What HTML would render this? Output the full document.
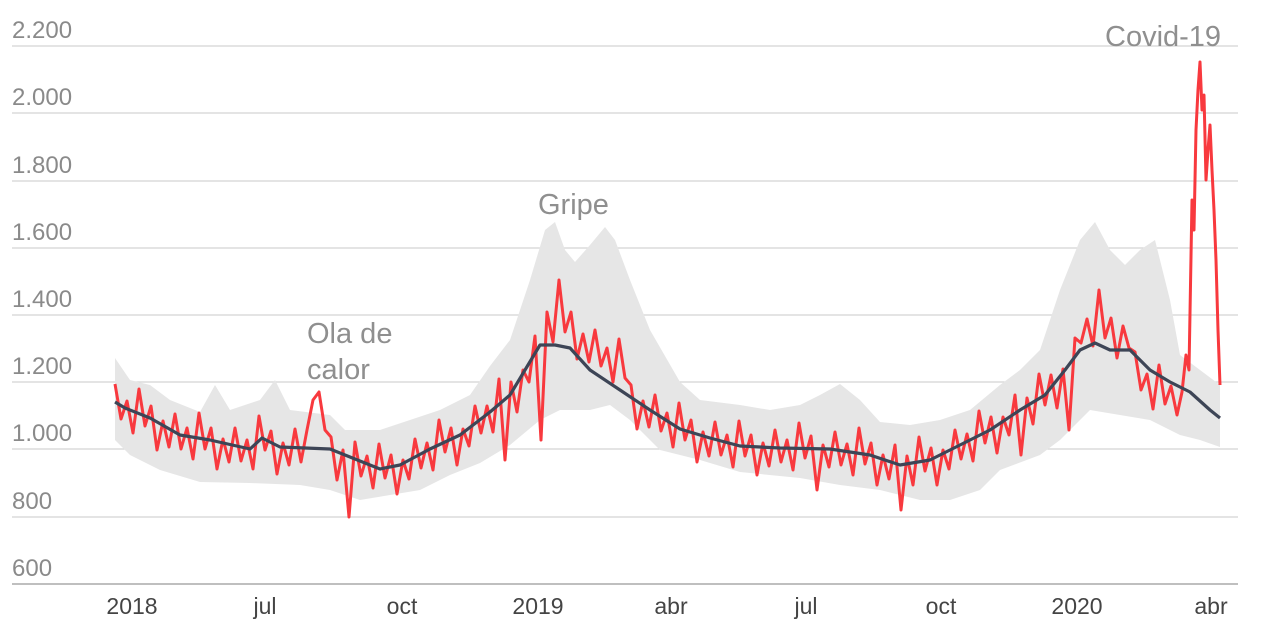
<!DOCTYPE html>
<html><head><meta charset="utf-8">
<style>
html,body{margin:0;padding:0;background:#fff;}
svg{display:block;font-family:"Liberation Sans",sans-serif;}
</style></head>
<body>
<svg width="1280" height="630" viewBox="0 0 1280 630" xmlns="http://www.w3.org/2000/svg">
<g stroke="#d4d4d4" stroke-width="1.3">
<line x1="12" x2="1238" y1="46" y2="46"/>
<line x1="12" x2="1238" y1="113" y2="113"/>
<line x1="12" x2="1238" y1="181" y2="181"/>
<line x1="12" x2="1238" y1="248" y2="248"/>
<line x1="12" x2="1238" y1="315" y2="315"/>
<line x1="12" x2="1238" y1="382" y2="382"/>
<line x1="12" x2="1238" y1="449" y2="449"/>
<line x1="12" x2="1238" y1="517" y2="517"/>
</g>
<line x1="12" x2="1238" y1="584" y2="584" stroke="#999" stroke-width="1.3"/>
<g fill="#8a8a8a" font-size="24">
<text x="12" y="38">2.200</text>
<text x="12" y="105">2.000</text>
<text x="12" y="173">1.800</text>
<text x="12" y="240">1.600</text>
<text x="12" y="307">1.400</text>
<text x="12" y="374">1.200</text>
<text x="12" y="441">1.000</text>
<text x="12" y="509">800</text>
<text x="12" y="576">600</text>
</g>
<g fill="#444" font-size="23" text-anchor="middle">
<text x="132" y="614">2018</text>
<text x="265" y="614">jul</text>
<text x="402" y="614">oct</text>
<text x="538" y="614">2019</text>
<text x="671" y="614">abr</text>
<text x="806" y="614">jul</text>
<text x="941" y="614">oct</text>
<text x="1077" y="614">2020</text>
<text x="1211" y="614">abr</text>
</g>
<path fill="#e6e6e6" d="M115 358L130 380L150 385L170 400L200 412L215 385L230 410L260 400L275 380L290 410L330 415L345 430L380 430L410 420L440 410L470 395L490 366L510 340L530 280L545 230L555 222L565 250L575 262L590 245L605 227L615 240L630 280L650 330L680 382L700 400L740 405L770 410L800 405L820 395L840 384L860 400L880 422L910 425L940 420L970 410L1000 385L1020 370L1040 350L1060 290L1080 240L1095 222L1110 250L1125 265L1140 250L1155 240L1170 300L1180 355L1200 370L1220 385L1220 447L1200 440L1180 435L1150 420L1120 415L1090 410L1060 440L1040 455L1000 470L980 490L950 500L920 500L880 490L840 485L800 478L740 472L700 460L660 450L630 420L610 405L590 410L560 410L540 420L510 445L480 463L450 475L420 490L390 495L360 500L330 490L300 485L250 483L200 482L160 470L130 455L115 440Z"/>
<path fill="none" stroke="#f8393e" stroke-width="3" stroke-linejoin="round" d="M115 384L121 419L127 401L133 433L139 389L145 426L151 406L157 450L163 421L169 447L175 414L181 449L187 428L193 459L199 413L205 449L211 428L217 469L223 439L229 462L235 428L241 461L247 440L253 469L259 416L265 450L271 431L277 474L283 443L289 465L295 429L301 462L307 430L313 400L319 392L325 430L331 437L337 480L343 450L349 517L355 442L361 476L367 456L373 488L379 444L385 478L391 455L397 494L403 460L409 479L415 439L421 468L427 443L433 470L439 420L445 452L451 428L457 465L463 429L469 446L475 406L481 433L487 406L493 432L499 379L505 460L511 382L517 412L523 370L529 382L535 336L541 440L547 312L553 342L559 280L565 332L571 312L577 359L583 334L589 362L595 330L601 366L607 348L613 382L619 339L625 378L631 385L637 429L643 401L649 427L655 395L661 431L667 413L673 447L679 403L685 440L691 420L697 462L703 432L709 456L715 422L721 455L727 435L733 467L739 421L745 456L751 435L757 475L763 443L769 466L775 430L781 462L787 440L793 470L799 423L805 458L811 436L817 490L823 445L829 467L835 432L841 465L847 444L853 475L859 428L865 464L871 443L877 485L883 455L889 479L895 445L901 510L907 456L913 485L919 437L925 471L931 448L937 485L943 450L949 469L955 430L961 459L967 434L973 461L979 411L985 443L991 417L997 453L1003 417L1009 435L1015 395L1021 455L1027 398L1033 424L1039 374L1045 405L1051 375L1057 408L1063 369L1069 430L1075 338L1081 343L1087 319L1093 346L1099 290L1105 338L1111 318L1117 358L1123 326L1129 348L1135 352L1141 390L1147 374L1153 409L1159 365L1165 404L1171 386L1177 415L1182 392L1186 355L1189 370L1192 200L1194 230L1196 130L1198 90L1200 62L1202 110L1204 95L1206 180L1208 150L1210 125L1212 170L1214 210L1216 260L1218 330L1220 385"/>
<path fill="none" stroke="#3d4556" stroke-width="3.2" stroke-linejoin="round" d="M115 402L125 408L150 418L180 435L210 440L250 449L262 438L280 447L330 449L345 455L380 469L400 465L430 449L460 435L490 412L510 395L525 370L540 345L555 345L570 348L590 370L620 390L650 410L680 429L710 438L740 446L780 448L830 449L870 455L900 465L930 460L960 445L990 430L1020 410L1045 395L1065 370L1080 350L1095 343L1110 350L1130 350L1150 370L1170 382L1190 392L1210 410L1220 418"/>
<g fill="#8f8f8f" font-size="29">
<text x="538" y="214">Gripe</text>
<text x="307" y="343">Ola de</text>
<text x="307" y="379">calor</text>
<text x="1105" y="46">Covid-19</text>
</g>
</svg>
</body></html>
